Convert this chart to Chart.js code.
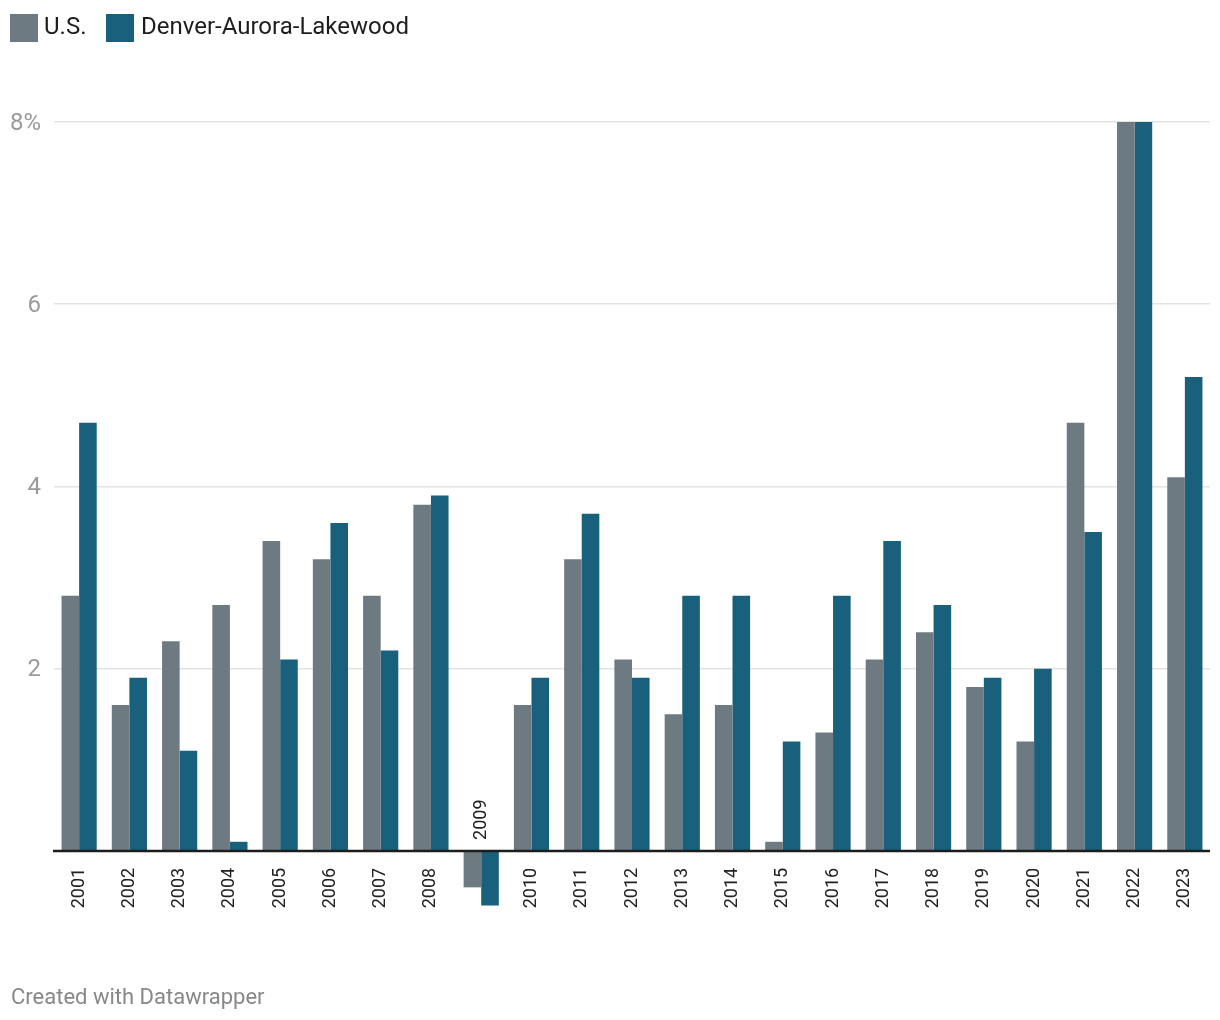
<!DOCTYPE html>
<html>
<head>
<meta charset="utf-8">
<script src="https://cdn.jsdelivr.net/npm/chart.js@4/dist/chart.umd.min.js"></script>
<style>
  html, body { margin: 0; padding: 0; background: #fff; }
  #wrap { position: relative; width: 1220px; height: 1020px; font-family: Roboto, "Noto Sans", sans-serif; }
  #c { position: absolute; left: 0; top: 0; }
  .sw { position: absolute; top: 14px; width: 28px; height: 28px; }
  .lt { position: absolute; top: 14px; font-size: 24px; line-height: 24px; color: #1d1d1d; white-space: nowrap; }
  #foot { position: absolute; left: 11px; top: 986px; font-size: 22px; line-height: 22px; color: #888; white-space: nowrap; }
</style>
</head>
<body>
<div id="wrap">
  <canvas id="c" width="1220" height="1020"></canvas>
  <div class="sw" style="left:10px;background:#6e7a81"></div>
  <div class="lt" style="left:44px">U.S.</div>
  <div class="sw" style="left:106px;background:#18607b"></div>
  <div class="lt" style="left:141px">Denver-Aurora-Lakewood</div>
  <div id="foot">Created with Datawrapper</div>
</div>
<script>
const years = ['2001','2002','2003','2004','2005','2006','2007','2008','2009','2010','2011','2012','2013','2014','2015','2016','2017','2018','2019','2020','2021','2022','2023'];
const usValues = [2.8,1.6,2.3,2.7,3.4,3.2,2.8,3.8,-0.4,1.6,3.2,2.1,1.5,1.6,0.1,1.3,2.1,2.4,1.8,1.2,4.7,8.0,4.1];
const denverValues = [4.7,1.9,1.1,0.1,2.1,3.6,2.2,3.9,-0.6,1.9,3.7,1.9,2.8,2.8,1.2,2.8,3.4,2.7,1.9,2.0,3.5,8.0,5.2];
const yTicks = [0,2,4,6,8];
const seriesNames = ['U.S.','Denver-Aurora-Lakewood'];
const seriesColors = ['#6e7a81','#18607b'];

const catLabels = {
  id: 'catLabels',
  afterDatasetsDraw(chart) {
    const {ctx, scales} = chart;
    const x = scales.x, y = scales.y;
    const y0 = y.getPixelForValue(0);
    ctx.save();
    ctx.strokeStyle = '#1d1d1d';
    ctx.lineWidth = 2.5;
    ctx.beginPath();
    ctx.moveTo(chart.chartArea.left - 1, y0);
    ctx.lineTo(chart.chartArea.right, y0);
    ctx.stroke();
    ctx.font = '18px Roboto, "Noto Sans", sans-serif';
    ctx.fillStyle = '#222';
    ctx.textBaseline = 'middle';
    years.forEach((lab, i) => {
      const cx = x.getPixelForValue(i);
      const neg = Math.min(usValues[i], denverValues[i]) < 0;
      ctx.save();
      if (neg) {
        ctx.translate(cx, y0 - 11);
        ctx.rotate(-Math.PI / 2);
        ctx.textAlign = 'left';
      } else {
        ctx.translate(cx, y0 + 17);
        ctx.rotate(-Math.PI / 2);
        ctx.textAlign = 'right';
      }
      ctx.fillText(lab, 0, 0);
      ctx.restore();
    });
    ctx.restore();
  }
};

new Chart(document.getElementById('c'), {
  type: 'bar',
  data: {
    labels: years,
    datasets: [
      { label: seriesNames[0], data: usValues, backgroundColor: seriesColors[0] },
      { label: seriesNames[1], data: denverValues, backgroundColor: seriesColors[1] }
    ]
  },
  options: {
    responsive: false,
    animation: false,
    devicePixelRatio: 1,
    layout: { padding: { top: 122, bottom: 78, left: 0, right: 10 } },
    datasets: { bar: { barPercentage: 1, categoryPercentage: 0.7 } },
    plugins: { legend: { display: false }, tooltip: { enabled: false } },
    scales: {
      x: { display: false, offset: true },
      y: {
        min: -1, max: 8,
        afterBuildTicks(scale) { scale.ticks = yTicks.map(v => ({ value: v })); },
        afterFit(scale) { scale.width = 54; },
        border: { display: false },
        grid: {
          drawTicks: false,
          color: ctx => (ctx.tick && ctx.tick.value === 0) ? 'rgba(0,0,0,0)' : '#e3e3e3',
          lineWidth: 1.5
        },
        ticks: {
          padding: 13,
          labelOffset: 1.5,
          color: '#9a9a9a',
          font: { family: 'Roboto, "Noto Sans", sans-serif', size: 24 },
          callback: v => v === 0 ? '' : (v === 8 ? '8%' : String(v))
        }
      }
    }
  },
  plugins: [catLabels]
});
</script>
</body>
</html>
